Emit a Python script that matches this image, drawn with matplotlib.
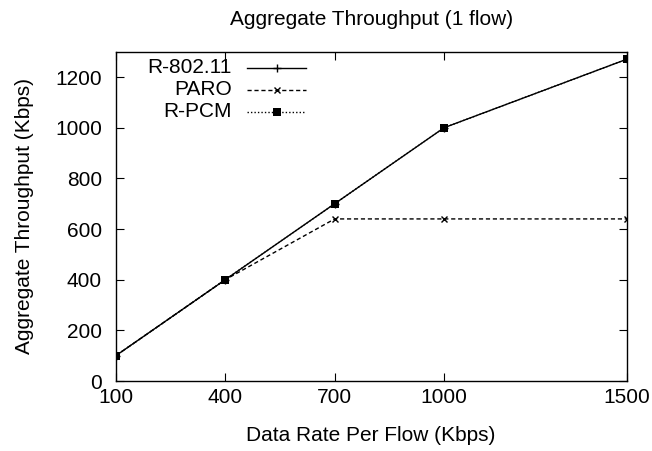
import matplotlib
matplotlib.use("Agg")
import matplotlib.pyplot as plt
from matplotlib.lines import Line2D

plt.rcParams['font.family'] = ['Liberation Sans', 'DejaVu Sans']

rates = [100, 400, 700, 1000, 1500]
r80211 = [100, 400, 700, 1000, 1270]
paro = [100, 400, 640, 640, 640]
rpcm = [100, 400, 700, 1000, 1270]
xticks = [100, 400, 700, 1000, 1500]
yticks = [0, 200, 400, 600, 800, 1000, 1200]
series_names = ['R-802.11', 'PARO', 'R-PCM']

FS = 15

fig = plt.figure(figsize=(6.52, 4.51), dpi=100)
ax = fig.add_axes([0.1775, 0.155, 0.7835, 0.7304])

styles = [
    dict(color='black', lw=1.0, ls='-', marker='+', ms=6, mew=1.0),
    dict(color='black', lw=1.0, ls=(0, (3, 2)), marker='x', ms=5, mew=1.0),
    dict(color='black', lw=1.0, ls=(0, (1, 1.5)), marker='s', ms=5.5, mew=0),
]
for ys, st in zip([r80211, paro, rpcm], styles):
    ax.plot(rates, ys, **st)

ax.set_xlim(100, 1500)
ax.set_ylim(0, 1300)
ax.set_xticks(xticks)
ax.set_yticks(yticks)
ax.tick_params(direction='in', top=True, right=True, length=6, width=0.8,
               labelsize=FS)
ax.tick_params(axis='x', pad=5)
ax.tick_params(axis='y', pad=10)
for s in ax.spines.values():
    s.set_linewidth(1.0)

ax.set_title('Aggregate Throughput (1 flow)', fontsize=FS, pad=19)
ax.set_xlabel('Data Rate Per Flow (Kbps)', fontsize=FS, labelpad=14)
ax.set_ylabel('Aggregate Throughput (Kbps)', fontsize=FS, labelpad=15)

# Key: right-aligned labels followed by line samples
row_y = [0.9505, 0.8837, 0.8169]
for name, st, y in zip(series_names, styles, row_y):
    ax.text(0.2277, y, name, transform=ax.transAxes, ha='right',
            va='center', fontsize=FS)
    ax.add_line(Line2D([0.257, 0.3727], [y, y], transform=ax.transAxes,
                       color=st['color'], lw=st['lw'], ls=st['ls']))
    ax.add_line(Line2D([0.3148], [y], transform=ax.transAxes, ls='none',
                       marker=st['marker'], ms=st['ms'], mew=st['mew'],
                       color='black'))

fig.savefig('out.png', dpi=100)
